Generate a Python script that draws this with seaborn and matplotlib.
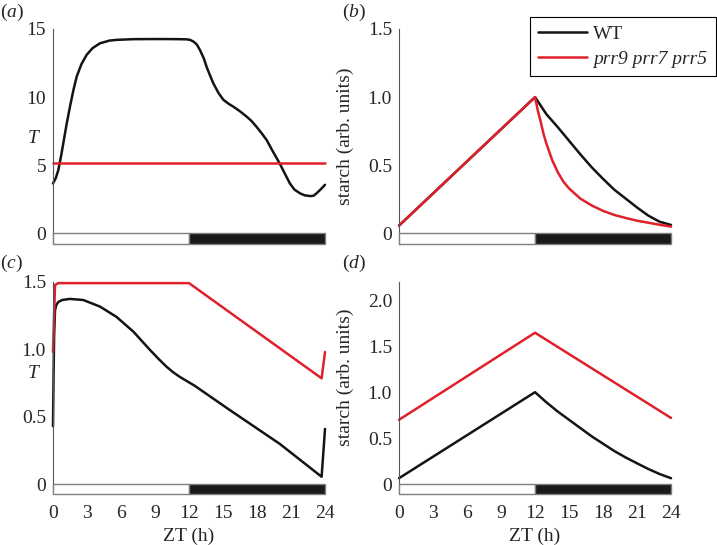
import matplotlib
matplotlib.use('Agg')
import pandas as pd
import matplotlib.pyplot as plt
from matplotlib.patches import Rectangle
from matplotlib.lines import Line2D
import seaborn as sns

# (a) T over the day
t_a_wt = [0, 0.25, 0.47, 0.7, 0.91, 1.2, 1.5, 1.8, 2.09, 2.5, 2.97, 3.5, 4.15, 5.0, 5.6, 7.0,
          8.56, 10.0, 11.2, 11.8, 12.1, 12.4, 12.7, 12.97, 13.3, 13.56, 13.85, 14.15, 14.6, 15.03,
          15.5, 15.9, 16.5, 17.1, 17.5, 17.97, 18.4, 18.85, 19.4, 20.0, 20.5, 20.9, 21.3, 21.8,
          22.2, 22.7, 23.0, 23.3, 23.6, 24.0]
T_a_wt = [3.65, 4.05, 4.63, 5.6, 6.6, 8.0, 9.3, 10.5, 11.5, 12.4, 13.1, 13.6, 13.95, 14.15, 14.2, 14.25,
          14.26, 14.26, 14.25, 14.24, 14.2, 14.07, 13.85, 13.45, 12.85, 12.2, 11.6, 11.0, 10.3, 9.8,
          9.5, 9.3, 8.95, 8.55, 8.25, 7.8, 7.35, 6.84, 6.0, 5.12, 4.3, 3.65, 3.2, 2.92,
          2.78, 2.72, 2.75, 2.96, 3.2, 3.55]
t_a_mut = [0, 24]
T_a_mut = [5.17, 5.17]

# (b) starch
t_b_wt = [0, 12, 13, 14, 15, 16, 17, 18, 19, 20, 21, 22, 23, 24]
s_b_wt = [0.057, 1.0, 0.875, 0.78, 0.68, 0.58, 0.485, 0.40, 0.32, 0.255, 0.19, 0.13, 0.085, 0.062]
t_b_mut = [0, 12, 12.25, 12.5, 12.75, 13, 13.5, 14, 14.5, 15, 16, 17, 18, 19, 20, 21, 22, 23, 24]
s_b_mut = [0.057, 1.0, 0.9, 0.82, 0.73, 0.66, 0.54, 0.45, 0.38, 0.33, 0.255, 0.205, 0.165, 0.135,
           0.113, 0.093, 0.078, 0.063, 0.05]

# (c) T
t_c_wt = [0, 0.05, 0.1, 0.18, 0.3, 0.47, 0.8, 1.5, 2.67, 4.15, 5.6, 7.1, 8.56, 9.3, 10.03, 10.6,
          11.2, 12.5, 15.6, 20.0, 23.7, 24.0]
s_c_wt = [0.43, 0.8, 1.1, 1.29, 1.33, 1.35, 1.365, 1.373, 1.365, 1.316, 1.24, 1.13, 0.995, 0.93,
          0.87, 0.83, 0.795, 0.73, 0.55, 0.30, 0.056, 0.41]
t_c_mut = [0, 0.18, 0.47, 12.0, 23.7, 24.0]
s_c_mut = [0.98, 1.476, 1.49, 1.49, 0.785, 0.98]

# (d) starch
t_d_wt = [0, 12, 13, 14, 15, 16, 17, 18, 19, 20, 21, 22, 23, 24]
s_d_wt = [0.065, 1.0, 0.89, 0.79, 0.70, 0.61, 0.52, 0.44, 0.36, 0.29, 0.227, 0.165, 0.11, 0.065]
t_d_mut = [0, 12, 24]
s_d_mut = [0.70, 1.646, 0.72]

light_dark = [(0, 12, 'white'), (12, 24, '#1a1a1a')]
genotypes = ['WT', 'prr9 prr7 prr5']
colors = {'WT': '#141414', 'prr9 prr7 prr5': '#e0202a'}
x_ticks = [0, 3, 6, 9, 12, 15, 18, 21, 24]

sns.set_style('white')
plt.rcParams['font.family'] = 'serif'
plt.rcParams['font.serif'] = ['Liberation Serif', 'Times New Roman', 'DejaVu Serif']
plt.rcParams['font.size'] = 14
plt.rcParams['mathtext.fontset'] = 'custom'
plt.rcParams['mathtext.rm'] = 'Liberation Serif'
plt.rcParams['mathtext.it'] = 'Liberation Serif:italic'


def make_df(t_wt, v_wt, t_mut, v_mut):
    a = pd.DataFrame({'t': t_wt, 'v': v_wt, 'line': genotypes[0]})
    b = pd.DataFrame({'t': t_mut, 'v': v_mut, 'line': genotypes[1]})
    return pd.concat([a, b], ignore_index=True)


fig = plt.figure(figsize=(7.17, 5.45), dpi=100)
ax_a = fig.add_axes([0.0739, 0.5523, 0.3794, 0.3945])
ax_b = fig.add_axes([0.5565, 0.5523, 0.3794, 0.3945])
ax_c = fig.add_axes([0.0739, 0.0930, 0.3794, 0.3900])
ax_d = fig.add_axes([0.5565, 0.0930, 0.3794, 0.3900])

panels = [
    (ax_a, make_df(t_a_wt, T_a_wt, t_a_mut, T_a_mut), (-0.8, 15), [0, 5, 10, 15], ['0', '5', '10', '15']),
    (ax_b, make_df(t_b_wt, s_b_wt, t_b_mut, s_b_mut), (-0.078, 1.5), [0, 0.5, 1.0, 1.5], ['0', '0.5', '1.0', '1.5']),
    (ax_c, make_df(t_c_wt, s_c_wt, t_c_mut, s_c_mut), (-0.074, 1.5), [0, 0.5, 1.0, 1.5], ['0', '0.5', '1.0', '1.5']),
    (ax_d, make_df(t_d_wt, s_d_wt, t_d_mut, s_d_mut), (-0.11, 2.2), [0, 0.5, 1.0, 1.5, 2.0], ['0', '0.5', '1.0', '1.5', '2.0']),
]

for ax, df, ylim, yt, ytl in panels:
    sns.lineplot(data=df, x='t', y='v', hue='line', hue_order=genotypes, palette=colors,
                 estimator=None, legend=False, lw=1.8, ax=ax, clip_on=False)
    for x0, x1, c in light_dark:
        ax.add_patch(Rectangle((x0, ylim[0]), x1 - x0, -ylim[0], facecolor=c,
                               edgecolor='#7f7f7f', lw=1.0, zorder=3, clip_on=False))
    ax.set_xlim(0, 24)
    ax.set_ylim(*ylim)
    ax.set_yticks(yt)
    ax.set_yticklabels(ytl)
    ax.set_xlabel('')
    ax.set_ylabel('')
    for s in ['top', 'right', 'bottom']:
        ax.spines[s].set_visible(False)
    ax.spines['left'].set_color('#555555')
    ax.spines['left'].set_linewidth(0.8)
    ax.tick_params(axis='y', direction='in', length=3, width=0.8, color='#555555', pad=5, labelsize=14)
    ax.tick_params(axis='x', length=0, pad=8, labelsize=14)

for ax in [ax_a, ax_b]:
    ax.set_xticks([])
for ax in [ax_c, ax_d]:
    ax.set_xticks(x_ticks)
    ax.set_xticklabels([str(x) for x in x_ticks])
    ax.set_xlabel('ZT (h)', fontsize=14, labelpad=4)

ax_a.set_ylabel('T', fontstyle='italic', rotation=0, fontsize=14)
ax_a.yaxis.set_label_coords(-0.074, 0.45)
ax_c.set_ylabel('T', fontstyle='italic', rotation=0, fontsize=14)
ax_c.yaxis.set_label_coords(-0.074, 0.53)
ax_b.set_ylabel('starch (arb. units)', fontsize=14)
ax_b.yaxis.set_label_coords(-0.165, 0.5)
ax_d.set_ylabel('starch (arb. units)', fontsize=14)
ax_d.yaxis.set_label_coords(-0.165, 0.55)

for lab, x, y in [('a', 0.0, 0.978), ('b', 0.477, 0.978), ('c', 0.0, 0.517), ('d', 0.477, 0.517)]:
    fig.text(x, y, r'($\mathit{' + lab + '}$)', fontsize=14, va='center', ha='left')

handles = [Line2D([], [], color=colors[g], lw=1.8) for g in genotypes]
leg = fig.legend(handles, genotypes, loc='upper right', bbox_to_anchor=(0.998, 0.969),
                 borderaxespad=0, frameon=True, fancybox=False, edgecolor='black', framealpha=1,
                 handlelength=2.5, handletextpad=0.3, borderpad=0.45, labelspacing=0.35,
                 fontsize=14)
leg.get_frame().set_linewidth(0.8)
leg.get_texts()[1].set_fontstyle('italic')

fig.savefig('out.png', dpi=100)
